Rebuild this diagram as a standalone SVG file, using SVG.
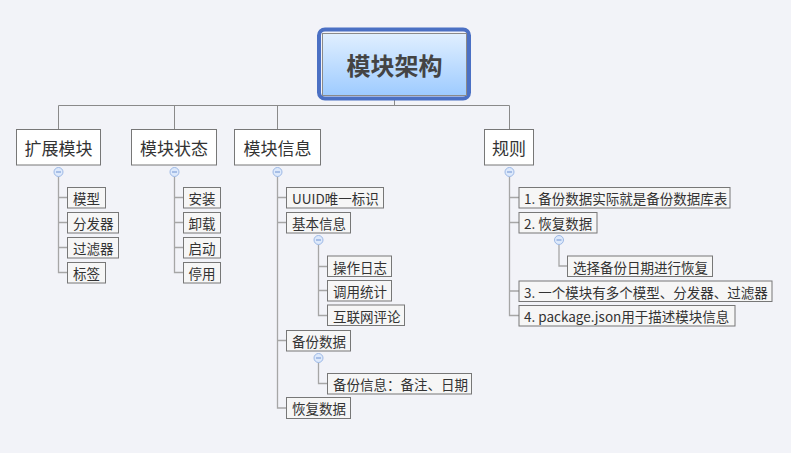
<svg xmlns="http://www.w3.org/2000/svg" width="791" height="453" viewBox="0 0 791 453">
<style>
text{font-family:"Noto Sans CJK SC","Microsoft YaHei",sans-serif;fill:#333;dominant-baseline:central}
.t1{font-size:17px;text-anchor:middle}
.t2{font-size:13.5px}
.b1{fill:#fff;stroke:#777;stroke-width:1}
.b2{fill:#f6f6f6;stroke:#777;stroke-width:1}
.bar{stroke:#8a8a8a;stroke-width:1;fill:none}
.ln{stroke:#a6a6a6;stroke-width:1.3;fill:none}
.cc{fill:#dde9fb;stroke:#9db9e6;stroke-width:1}
.cm{stroke:#7093d2;stroke-width:1}
</style>
<defs>
<linearGradient id="rg" x1="0" y1="0" x2="0" y2="1">
<stop offset="0" stop-color="#e0efff"/>
<stop offset="1" stop-color="#9ecbff"/>
</linearGradient>
<g id="col"><circle class="cc" r="4.5"/><line class="cm" x1="-2.5" y1="0" x2="2.5" y2="0"/></g>
</defs>
<rect width="791" height="453" fill="#f2f3f8"/>

<g id="connectors">
<path class="bar" d="M394.5 99V105.5M58.5 129V105.5H509.5V129M174.5 105.5V129M277.5 105.5V129"/>
<path class="ln" d="M58.5 176.5V272.5H67M58.5 197.5H67M58.5 222.5H67M58.5 247.5H67"/>
<path class="ln" d="M174.5 176.5V272.5H183M174.5 197.5H183M174.5 222.5H183M174.5 247.5H183"/>
<path class="ln" d="M277.5 176.5V408H286.5M277.5 197.5H286.5M277.5 222.5H286.5M277.5 340.5H286.5"/>
<path class="ln" d="M318.5 244.5V315.5H327M318.5 266.5H327M318.5 290.5H327"/>
<path class="ln" d="M318.5 362.5V383.5H327"/>
<path class="ln" d="M509.5 176.5V315.5H519M509.5 197.5H519M509.5 222.5H519M509.5 291H519"/>
<path class="ln" d="M559 244.5V266H567"/>
<use href="#col" x="58.5" y="172"/>
<use href="#col" x="174.5" y="172"/>
<use href="#col" x="277.5" y="172"/>
<use href="#col" x="509.5" y="172"/>
<use href="#col" x="318.5" y="240"/>
<use href="#col" x="318.5" y="358"/>
<use href="#col" x="559" y="240"/>
</g>

<g id="root">
<rect x="319" y="29.5" width="150" height="69" rx="6" fill="none" stroke="#4b70c4" stroke-width="4"/>
<rect x="322.5" y="33.5" width="144" height="62" fill="url(#rg)" stroke="#8a8a8a" stroke-width="1"/>
<text x="394.5" y="64.5" style="font-size:24px;font-weight:bold;text-anchor:middle;fill:#444">模块架构</text>
</g>

<g id="n-ext"><rect class="b1" x="16.5" y="129.5" width="84" height="35.5"/><text class="t1" x="58.5" y="147.5">扩展模块</text></g>
<g id="n-state"><rect class="b1" x="131.5" y="129.5" width="85" height="35.5"/><text class="t1" x="174" y="147.5">模块状态</text></g>
<g id="n-info"><rect class="b1" x="234.5" y="129.5" width="86" height="35.5"/><text class="t1" x="277.5" y="147.5">模块信息</text></g>
<g id="n-rule"><rect class="b1" x="484.5" y="129.5" width="49" height="35.5"/><text class="t1" x="509" y="147.5">规则</text></g>

<g id="n-model"><rect class="b2" x="67.5" y="187.5" width="38" height="20.5"/><text class="t2" x="73" y="198">模型</text></g>
<g id="n-dist"><rect class="b2" x="67.5" y="212.5" width="51" height="20.5"/><text class="t2" x="73" y="223">分发器</text></g>
<g id="n-filter"><rect class="b2" x="67.5" y="237.5" width="51" height="20.5"/><text class="t2" x="73" y="248">过滤器</text></g>
<g id="n-tag"><rect class="b2" x="67.5" y="262.5" width="38" height="20.5"/><text class="t2" x="73" y="273">标签</text></g>

<g id="n-install"><rect class="b2" x="183.5" y="187.5" width="37" height="20.5"/><text class="t2" x="188.5" y="198">安装</text></g>
<g id="n-uninstall"><rect class="b2" x="183.5" y="212.5" width="37" height="20.5"/><text class="t2" x="188.5" y="223">卸载</text></g>
<g id="n-start"><rect class="b2" x="183.5" y="237.5" width="37" height="20.5"/><text class="t2" x="188.5" y="248">启动</text></g>
<g id="n-stop"><rect class="b2" x="183.5" y="262.5" width="37" height="20.5"/><text class="t2" x="188.5" y="273">停用</text></g>

<g id="n-uuid"><rect class="b2" x="286.5" y="187.5" width="97" height="20.5"/><text class="t2" x="292" y="198">UUID唯一标识</text></g>
<g id="n-basic"><rect class="b2" x="286.5" y="212.5" width="64" height="20.5"/><text class="t2" x="292" y="223">基本信息</text></g>
<g id="n-log"><rect class="b2" x="327.5" y="256" width="64" height="20.5"/><text class="t2" x="333" y="266.5">操作日志</text></g>
<g id="n-stat"><rect class="b2" x="327.5" y="280.5" width="64" height="20.5"/><text class="t2" x="333" y="291">调用统计</text></g>
<g id="n-review"><rect class="b2" x="327.5" y="305" width="77" height="20.5"/><text class="t2" x="333" y="315.5">互联网评论</text></g>
<g id="n-backup"><rect class="b2" x="286.5" y="330.5" width="64" height="20.5"/><text class="t2" x="292" y="341">备份数据</text></g>
<g id="n-backupinfo"><rect class="b2" x="327.5" y="373.5" width="144" height="20.5"/><text class="t2" x="333" y="384">备份信息：备注、日期</text></g>
<g id="n-restore"><rect class="b2" x="286.5" y="397.5" width="64" height="21"/><text class="t2" x="292" y="408">恢复数据</text></g>

<g id="n-r1"><rect class="b2" x="519" y="187.5" width="211" height="20.5"/><text class="t2" x="524" y="198">1. 备份数据实际就是备份数据库表</text></g>
<g id="n-r2"><rect class="b2" x="519" y="212.5" width="78" height="20.5"/><text class="t2" x="524" y="223">2. 恢复数据</text></g>
<g id="n-r2a"><rect class="b2" x="567.5" y="256" width="145" height="20.5"/><text class="t2" x="573" y="266.5">选择备份日期进行恢复</text></g>
<g id="n-r3"><rect class="b2" x="519" y="281" width="253" height="20.5"/><text class="t2" x="524" y="291.5">3. 一个模块有多个模型、分发器、过滤器</text></g>
<g id="n-r4"><rect class="b2" x="519" y="305.5" width="216" height="20.5"/><text class="t2" x="524" y="316">4. package.json用于描述模块信息</text></g>
</svg>
